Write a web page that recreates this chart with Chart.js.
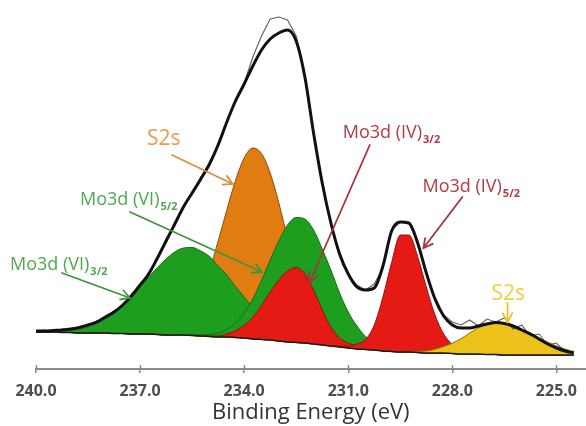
<!DOCTYPE html>
<html><head><meta charset="utf-8">
<script src="https://cdn.jsdelivr.net/npm/chart.js@4/dist/chart.umd.min.js"></script>
<style>html,body{margin:0;padding:0;background:#fff;}canvas{display:block;}</style>
</head><body>
<canvas id="c" width="586" height="426"></canvas>
<script>
// Binding energy grid (eV)
const energies = [240,239.75,239.5,239.25, 239,238.75,238.5,238.25, 238,237.75,237.5,237.25,
  237,236.75,236.5,236.25, 236,235.75,235.5,235.25, 235,234.75,234.5,234.25,
  234,233.75,233.5,233.25, 233,232.75,232.5,232.25, 232,231.75,231.5,231.25,
  231,230.75,230.5,230.25, 230,229.75,229.5,229.25, 229,228.75,228.5,228.25,
  228,227.75,227.5,227.25, 227,226.75,226.5,226.25, 226,225.75,225.5,225.25, 225,224.75,224.5];
const tickValues = [240, 237, 234, 231, 228, 225];

// Intensities (arbitrary units)
const background = [37,37,37,36.5, 36.5,36,36,36, 36,35.5,35.5,35, 35,35,34.5,34, 34,34,33.5,33,
  32.5,32,32,31.5, 31,30,29.5,29, 28,27,26.5,26, 25,24,23,22, 21,20,19.5,19, 18,17.5,17,17,
  16.5,16,16,16, 15.5,15,15,15, 14.5,14.5,14,14, 14,14,14,14, 14,14,14];
const moVI32 = [37.2,37.4,37.7,37.8, 38.8,39.8,42.1,45.5, 50,55.5,63.5,72, 82,92,101.5,110, 117,121,121.5,118,
  112.5,103,94,82.5, 72,61,52.5,46, 39,34.5,31.2,28.9, 26.7,25,23.5,22.3, 21.1,20,19.5,19, 18,17.5,17,17,
  16.5,16,16,16, 15.5,15,15,15, 14.5,14.5,14,14, 14,14,14,14, 14,14,14];
const s2sMain = [37,37,37,36.5, 36.5,36,36,36, 36,35.5,35.5,35, 35,35,36,37.3, 41,48,58.5,76,
  98.5,128,159,188.5, 211,221,215.5,196, 166,131,98.5,72, 52,38,30,25.2, 22.5,20.6,19.8,19, 18,17.5,17,17,
  16.5,16,16,16, 15.5,15,15,15, 14.5,14.5,14,14, 14,14,14,14, 14,14,14];
const moVI52 = [37,37,37,36.5, 36.5,36,36,36, 36,35.5,35.5,35, 35,35,34.5,34, 34,34.5,34.3,34.2,
  34.3,35.8,39.7,45.5, 56,70,88.5,109, 128,144,151.5,150, 139,120,99,76, 57,43,32.5,26, 21.3,19.1,17.7,17.3,
  16.5,16,16,16, 15.5,15,15,15, 14.5,14.5,14,14, 14,14,14,14, 14,14,14];
const moIV32 = [37,37,37,36.5, 36.5,36,36,36, 36,35.5,35.5,35, 35,35,34.5,34, 34,34,33.5,33,
  33,33,35.2,38.2, 43.6,51.7,63.5,77, 89,98,101.5,95, 79,59,42,30.8, 26,23,21.5,20, 18.3,17.5,17,17,
  16.5,16,16,16, 15.5,15,15,15, 14.5,14.5,14,14, 14,14,14,14, 14,14,14];
const moIV52 = [37,37,37,36.5, 36.5,36,36,36, 36,35.5,35.5,35, 35,35,34.5,34, 34,34,33.5,33,
  32.5,32,32,31.5, 31,30,29.5,29, 28,27,26.5,26, 25,24,23,23, 23,25,29.5,44, 72,106.5,134,134,
  112.5,82,54,35, 24.5,20,18,17, 15.5,14.5,14,14, 14,14,14,14, 14,14,14];
const s2sSmall = [37,37,37,36.5, 36.5,36,36,36, 36,35.5,35.5,35, 35,35,34.5,34, 34,34,33.5,33,
  32.5,32,32,31.5, 31,30,29.5,29, 28,27,26.5,26, 25,24,23,22, 21,20,19.5,19, 18,17.5,17,17,
  17.5,18,19.7,22.5, 25.8,30.3,36,41, 44.5,46.5,45.5,43, 40,36,31,27, 23,20,17];
const envelope = [38,38,38.5,39, 40,41.5,44,47, 52,57,64,73, 84,95,111,128, 145,162,176,190,
  205,224,247,268, 285,303,319,330, 336,339,328,292, 236,186,146,115, 95,82,79,81, 103,138,147,146,
  126,96,70,53, 44,41,41,43, 45,46.5,45.5,43, 39,35,30,25, 21,18,16];
const rawData = [38,39,37,40, 39,42,43,48, 51,58,63,75, 83,97,110,130, 144,163,175,192,
  204,226,246,270, 286,312,333,350, 352,349,333,292, 236,187,145,117, 94,84,79,85, 101,139,147,145,
  128,95,72,54, 47,44,49,43, 50,47,51,40, 44,33,35,24, 26,17,18];

// Annotations in data coordinates [energy, intensity]
const annotations = [
  {text:'S2s', sub:'', color:'#e99a4c', arrowColor:'#d6913f', size:21, at:[236.80,224], from:[236.08,214], to:[234.33,185]},
  {text:'Mo3d (VI)', sub:'5/2', color:'#4fa84f', arrowColor:'#3d963d', size:18, at:[238.73,164], from:[237.29,157], to:[233.49,97]},
  {text:'Mo3d (VI)', sub:'3/2', color:'#4fa84f', arrowColor:'#3d963d', size:18, at:[240.75,99], from:[239.25,96], to:[237.29,71]},
  {text:'Mo3d (IV)', sub:'3/2', color:'#b73a42', arrowColor:'#a8343b', size:18, at:[231.16,231], from:[230.38,224], to:[232.11,87]},
  {text:'Mo3d (IV)', sub:'5/2', color:'#b73a42', arrowColor:'#a8343b', size:18, at:[228.86,177], from:[227.71,172], to:[228.83,121]},
  {text:'S2s', sub:'', color:'#f0cf3a', arrowColor:'#e8c42c', size:21, at:[226.87,69], from:[226.41,66], to:[226.41,47]}
];

const pts = arr => arr.map((v, i) => ({x: energies[i], y: v}));

function comp(label, arr, fillColor, lineColor, order) {
  return {label, data: pts(arr), backgroundColor: fillColor, borderColor: lineColor, borderWidth: 1,
    fill: {target: 0}, pointRadius: 0, cubicInterpolationMode: 'monotone', order};
}

const annotatePlugin = {
  id: 'annotate',
  afterDraw(chart) {
    const {ctx, scales: {x, y}, chartArea} = chart;
    ctx.save();
    // tick marks above the axis line
    ctx.strokeStyle = '#8a8a8a'; ctx.lineWidth = 1.5;
    tickValues.forEach(v => {
      const px = Math.round(x.getPixelForValue(v)) + 0.5;
      ctx.beginPath(); ctx.moveTo(px, chartArea.bottom - 4); ctx.lineTo(px, chartArea.bottom); ctx.stroke();
    });
    annotations.forEach(a => {
      const x1 = x.getPixelForValue(a.from[0]), y1 = y.getPixelForValue(a.from[1]);
      const x2 = x.getPixelForValue(a.to[0]), y2 = y.getPixelForValue(a.to[1]);
      ctx.strokeStyle = a.arrowColor; ctx.lineWidth = 1.8; ctx.lineCap = 'round';
      ctx.beginPath(); ctx.moveTo(x1, y1); ctx.lineTo(x2, y2); ctx.stroke();
      const ang = Math.atan2(y2 - y1, x2 - x1), L = 10;
      ctx.beginPath();
      ctx.moveTo(x2 - L * Math.cos(ang - 0.5), y2 - L * Math.sin(ang - 0.5));
      ctx.lineTo(x2, y2);
      ctx.lineTo(x2 - L * Math.cos(ang + 0.5), y2 - L * Math.sin(ang + 0.5));
      ctx.stroke();
      const tx = x.getPixelForValue(a.at[0]), ty = y.getPixelForValue(a.at[1]);
      ctx.fillStyle = a.color; ctx.textBaseline = 'alphabetic'; ctx.textAlign = 'left';
      ctx.font = a.size + 'px "Open Sans"';
      ctx.fillText(a.text, tx, ty);
      if (a.sub) {
        const w = ctx.measureText(a.text).width;
        ctx.font = 'bold 11px "Open Sans"';
        ctx.fillText(a.sub, tx + w + 1, ty + 5);
      }
    });
    ctx.restore();
  }
};

new Chart(document.getElementById('c'), {
  type: 'line',
  data: {
    datasets: [
      {label: 'Background', data: pts(background), borderColor: '#1a1a1a', borderWidth: 1.5, pointRadius: 0, fill: false, cubicInterpolationMode: 'monotone', order: 4},
      comp('S2s', s2sMain, '#e07c12', '#8a4c12', 10),
      comp('Mo3d (VI) 3/2', moVI32, '#1e9e1e', '#156c15', 9),
      comp('Mo3d (VI) 5/2', moVI52, '#1e9e1e', '#156c15', 8),
      comp('Mo3d (IV) 3/2', moIV32, '#e61a14', '#8f1410', 7),
      comp('Mo3d (IV) 5/2', moIV52, '#e61a14', '#8f1410', 6),
      comp('S2s small', s2sSmall, '#ebc11a', '#8a7012', 5),
      {label: 'Raw', data: pts(rawData), borderColor: '#5e5e5e', borderWidth: 1.1, pointRadius: 0, fill: false, tension: 0, order: 3},
      {label: 'Envelope', data: pts(envelope), borderColor: '#111111', borderWidth: 3, pointRadius: 0, fill: false, cubicInterpolationMode: 'monotone', order: 2}
    ]
  },
  options: {
    responsive: false,
    animation: false,
    layout: {padding: {left: 36, right: 0, top: 0, bottom: 0}},
    plugins: {legend: {display: false}, tooltip: {enabled: false}},
    scales: {
      x: {
        type: 'linear', reverse: true, min: 224.16, max: 240,
        afterBuildTicks: s => { s.ticks = tickValues.map(v => ({value: v})); },
        afterFit: s => { s.height = 57; },
        ticks: {callback: v => Number(v).toFixed(1), font: {family: 'Open Sans', size: 16, weight: 'bold'}, color: '#4d4d4d', padding: 9, maxRotation: 0, autoSkip: false},
        grid: {drawOnChartArea: false, drawTicks: true, tickLength: 4, color: '#8a8a8a', lineWidth: 1.5},
        border: {display: true, color: '#8a8a8a', width: 2},
        title: {display: true, text: 'Binding Energy (eV)', font: {family: 'Open Sans', size: 22}, color: '#333333', padding: {top: 0, bottom: 0}}
      },
      y: {display: false, min: 0, max: 369}
    }
  },
  plugins: [annotatePlugin]
});
</script>
</body></html>
